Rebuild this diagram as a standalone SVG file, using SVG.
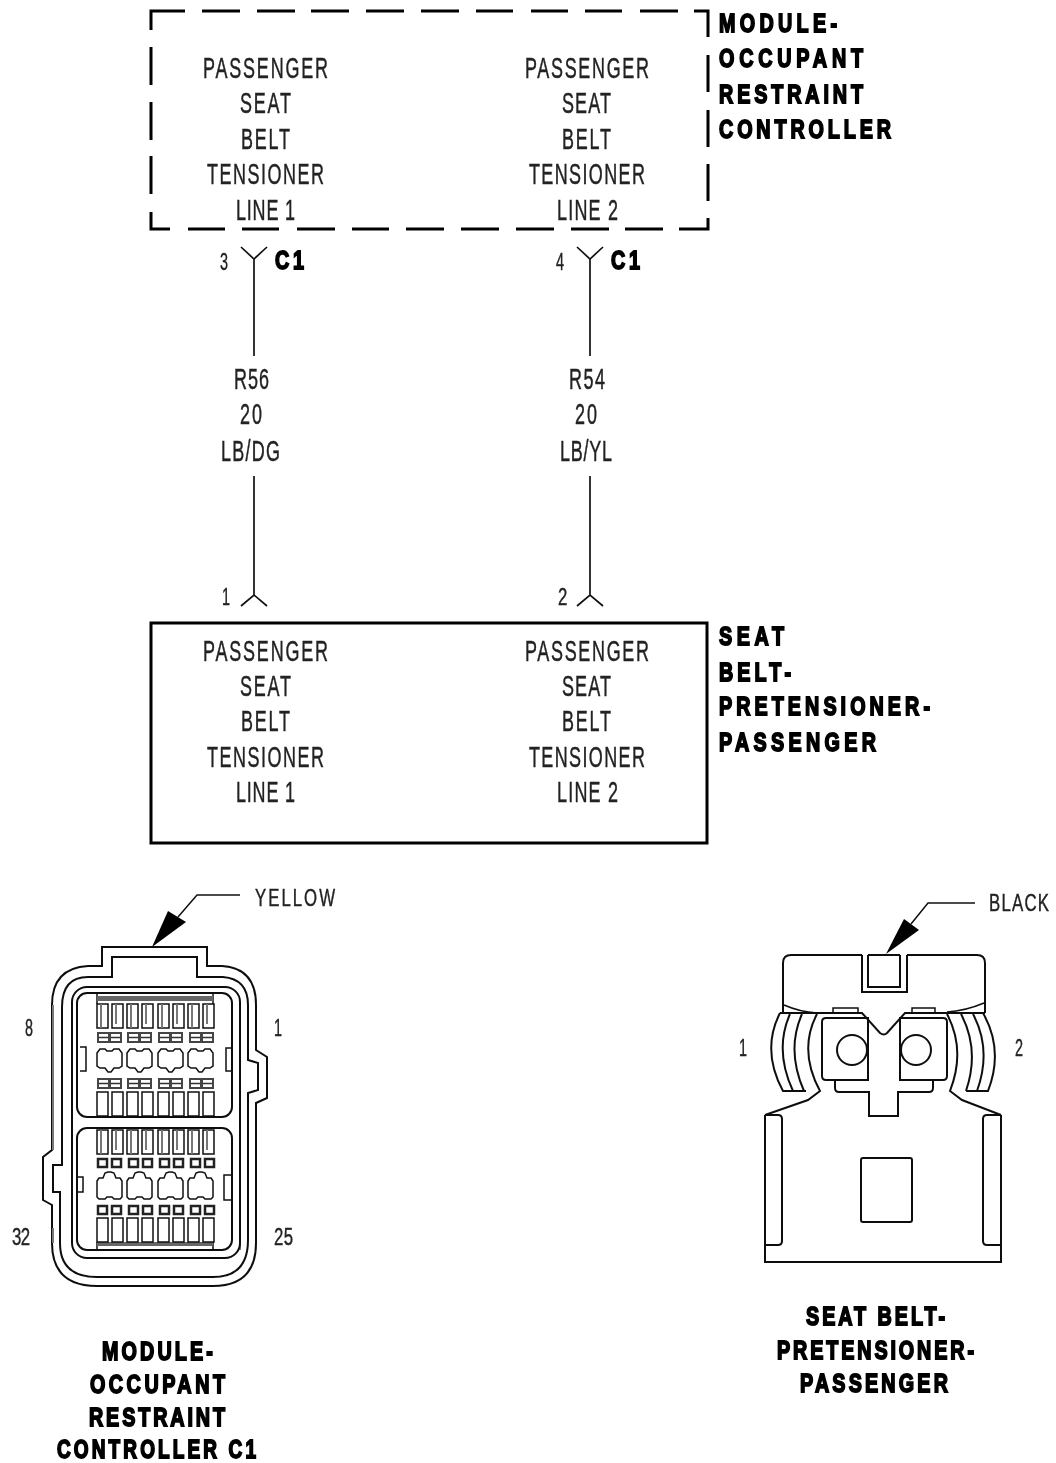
<svg xmlns="http://www.w3.org/2000/svg" width="1056" height="1463" viewBox="0 0 1056 1463">
<style>
text{font-family:"Liberation Sans",Arial,sans-serif;fill:#222}
.t{font-size:29px;stroke:#222;stroke-width:.45px}
.n{font-size:24px;stroke:#222;stroke-width:.4px}
.b{font-size:26px;font-weight:bold;fill:#000;stroke:#000;stroke-width:1.8px}
.s{fill:none;stroke:#111;stroke-width:2}
.m{fill:none;stroke:#111;stroke-width:1.5}
.w{fill:none;stroke:#111;stroke-width:1.7}
.box{fill:none;stroke:#000;stroke-width:3}
.k{fill:#000;stroke:none}
.g{fill:none;stroke:#777;stroke-width:2}
.d{fill:#666}
</style>
<defs>
<filter id="soft" x="0" y="0" width="100%" height="100%"><feGaussianBlur stdDeviation=".4"/></filter>
<g id="slots"><path class="m" d="M0,0H11V24H0ZM15,0H26V24H15ZM30,0H41V24H30ZM45,0H56V24H45ZM61,0H72V24H61ZM76,0H87V24H76ZM91,0H102V24H91ZM106,0H117V24H106Z"/></g>
<path id="shade" class="g" d="M4,0V24M19,0V20M34,0V24M49,0V20M65,0V24M80,0V20M95,0V24M110,0V20"/>
<g id="pairA"><rect width="25" height="11" fill="#444"/><rect x="2" y="2" width="9" height="7" fill="#fff"/><rect x="14" y="2" width="9" height="7" fill="#fff"/><path d="M2,5.500H11M14,5.500H23" stroke="#333" stroke-width="1.500"/></g>
<g id="pairB"><rect x="1" y="1" width="9" height="8" fill="#fff" stroke="#222" stroke-width="2.500"/><rect x="15" y="1" width="9" height="8" fill="#fff" stroke="#222" stroke-width="2.500"/></g>
<path id="termA" class="m" d="M0,5L3,1H8L10,3H15L17,1H22L25,5V18L22,20H17L14,24H11L8,20H3L0,18Z"/>
<path id="termB" class="m" d="M0,9L2,6H6L8,1L11,0H14L17,1L19,6H23L25,9V25L23,27H17L15,25H10L8,27H2L0,25Z"/>
</defs>
<g filter="url(#soft)">
<rect width="1056" height="1463" fill="#fff"/>

<g id="module-occupant-restraint-controller">
<path class="box" d="M185,11H151V30M202,11H240M257,11H295M311,11H349M366,11H404M421,11H459M476,11H513M531,11H568M585,11H622M640,11H678M694,11H708V37M708,55V92M708,110V147M708,164V201M708,218V229H679M663,229H625M609,229H571M554,229H516M499,229H461M444,229H406M389,229H352M335,229H297M279,229H242M225,229H188M170,229H151V212M151,194V156M151,140V102M151,85V47"/>
<text class="t" transform="translate(203,78) scale(.62,1)" textLength="201.600">PASSENGER</text>
<text class="t" transform="translate(240,113) scale(.62,1)" textLength="82.300">SEAT</text>
<text class="t" transform="translate(241,149) scale(.62,1)" textLength="79">BELT</text>
<text class="t" transform="translate(207,184) scale(.62,1)" textLength="188.700">TENSIONER</text>
<text class="t" transform="translate(236,220) scale(.62,1)" textLength="95.200">LINE 1</text>
<text class="t" transform="translate(525,78) scale(.62,1)" textLength="200">PASSENGER</text>
<text class="t" transform="translate(562,113) scale(.62,1)" textLength="79">SEAT</text>
<text class="t" transform="translate(562,149) scale(.62,1)" textLength="79">BELT</text>
<text class="t" transform="translate(529,184) scale(.62,1)" textLength="187">TENSIONER</text>
<text class="t" transform="translate(557,220) scale(.62,1)" textLength="98.400">LINE 2</text>
<text class="b" transform="translate(719,32) scale(.76,1)" textLength="155.300">MODULE-</text>
<text class="b" transform="translate(719,67) scale(.76,1)" textLength="189.500">OCCUPANT</text>
<text class="b" transform="translate(719,103) scale(.76,1)" textLength="189.500">RESTRAINT</text>
<text class="b" transform="translate(719,138) scale(.76,1)" textLength="226.300">CONTROLLER</text>
</g>

<g id="connectors">
<path class="w" d="M241,247L254,259L267,247M254,259V356M254,476V595M241,606L254,595L267,606"/>
<path class="w" d="M577,247L590,259L603,247M590,259V356M590,476V595M577,606L590,595L603,606"/>
</g>

<g id="wire-labels">
<text class="n" transform="translate(220,270) scale(.6,1)">3</text>
<text class="b" transform="translate(275,268.500) scale(.76,1)" textLength="38.200">C1</text>
<text class="n" transform="translate(556,270) scale(.6,1)">4</text>
<text class="b" transform="translate(611,268.500) scale(.76,1)" textLength="38.200">C1</text>
<text class="n" transform="translate(222,605) scale(.6,1)">1</text>
<text class="n" transform="translate(558,605) scale(.7,1)">2</text>
<text class="t" transform="translate(234,389) scale(.62,1)" textLength="56.500">R56</text>
<text class="t" transform="translate(240,424) scale(.62,1)" textLength="35.500">20</text>
<text class="t" transform="translate(221,461) scale(.62,1)" textLength="95.200">LB/DG</text>
<text class="t" transform="translate(569,389) scale(.62,1)" textLength="58">R54</text>
<text class="t" transform="translate(575,424) scale(.62,1)" textLength="35.500">20</text>
<text class="t" transform="translate(560,461) scale(.62,1)" textLength="83.900">LB/YL</text>
</g>

<g id="seat-belt-pretensioner-passenger">
<rect class="box" x="151" y="623" width="556" height="220"/>
<text class="t" transform="translate(203,661) scale(.62,1)" textLength="201.600">PASSENGER</text>
<text class="t" transform="translate(240,696) scale(.62,1)" textLength="82.300">SEAT</text>
<text class="t" transform="translate(241,731) scale(.62,1)" textLength="79">BELT</text>
<text class="t" transform="translate(207,767) scale(.62,1)" textLength="188.700">TENSIONER</text>
<text class="t" transform="translate(236,802) scale(.62,1)" textLength="95.200">LINE 1</text>
<text class="t" transform="translate(525,661) scale(.62,1)" textLength="200">PASSENGER</text>
<text class="t" transform="translate(562,696) scale(.62,1)" textLength="79">SEAT</text>
<text class="t" transform="translate(562,731) scale(.62,1)" textLength="79">BELT</text>
<text class="t" transform="translate(529,767) scale(.62,1)" textLength="187">TENSIONER</text>
<text class="t" transform="translate(557,802) scale(.62,1)" textLength="98.400">LINE 2</text>
<text class="b" transform="translate(719,645) scale(.76,1)" textLength="85.500">SEAT</text>
<text class="b" transform="translate(719,681) scale(.76,1)" textLength="94.700">BELT-</text>
<text class="b" transform="translate(719,715) scale(.76,1)" textLength="277.600">PRETENSIONER-</text>
<text class="b" transform="translate(719,751) scale(.76,1)" textLength="206.600">PASSENGER</text>
</g>

<g id="connector-c1-view">
<path class="m" d="M240,895H197L178,917"/>
<path class="k" d="M152,947L168,911L186,922Z"/>
<path class="s" d="M102,947V966H88Q52,968 52,1005V1150L43,1157V1200L52,1205V1243Q52,1286 97,1286H213Q256,1286 256,1243V1103L267,1098V1057L256,1050V1005Q256,968 222,966H207V947Z"/>
<path class="s" d="M112,957H197V977H223Q248,979 248,1005V1060L258,1063V1090L248,1093V1240Q248,1277 213,1277H97Q60,1277 60,1243V1192H53V1165H62V1007Q62,977 88,977H112Z"/>
<path class="g" d="M53,1005V1150M53,1228V1243M240,1010V1250"/>
<rect class="s" x="72" y="987" width="168" height="271" rx="15"/>
<rect class="s" x="77" y="993" width="155" height="124" rx="10"/>
<rect class="s" x="77" y="1128" width="155" height="122" rx="10"/>
<path class="m" d="M97,993V1004M213,993V1004M97,1242V1250M213,1242V1250"/>
<rect class="d" x="97" y="996" width="116" height="5"/>
<rect class="d" x="97" y="1242" width="116" height="4"/>
<use href="#slots" x="97" y="1004"/><use href="#shade" x="97" y="1004"/>
<use href="#slots" x="97" y="1092"/>
<use href="#slots" x="97" y="1130"/><use href="#shade" x="97" y="1130"/>
<use href="#slots" x="97" y="1218"/>
<use href="#pairA" x="97" y="1032"/><use href="#pairA" x="127" y="1032"/><use href="#pairA" x="158" y="1032"/><use href="#pairA" x="189" y="1032"/>
<use href="#pairA" x="97" y="1078"/><use href="#pairA" x="127" y="1078"/><use href="#pairA" x="158" y="1078"/><use href="#pairA" x="189" y="1078"/>
<use href="#pairB" x="97" y="1158"/><use href="#pairB" x="128" y="1158"/><use href="#pairB" x="159" y="1158"/><use href="#pairB" x="190" y="1158"/>
<use href="#pairB" x="97" y="1205"/><use href="#pairB" x="128" y="1205"/><use href="#pairB" x="159" y="1205"/><use href="#pairB" x="190" y="1205"/>
<use href="#termA" x="97" y="1048"/><use href="#termA" x="127" y="1048"/><use href="#termA" x="158" y="1048"/><use href="#termA" x="188" y="1048"/>
<use href="#termB" x="97" y="1172"/><use href="#termB" x="127" y="1172"/><use href="#termB" x="158" y="1172"/><use href="#termB" x="188" y="1172"/>
<path class="m" d="M80,1047H86V1071H80M231,1048H226V1071H231M78,1177H83V1192H78M231,1175H224V1200H231"/>
<text class="n" transform="translate(255,906) scale(.7,1)" textLength="114.300">YELLOW</text>
<text class="n" transform="translate(25,1036) scale(.6,1)">8</text>
<text class="n" transform="translate(274,1036) scale(.6,1)">1</text>
<text class="n" transform="translate(12,1245) scale(.7,1)" textLength="25.700">32</text>
<text class="n" transform="translate(274,1245) scale(.7,1)" textLength="27.100">25</text>
<text class="b" transform="translate(102,1360) scale(.76,1)" textLength="146">MODULE-</text>
<text class="b" transform="translate(90,1393) scale(.76,1)" textLength="177.600">OCCUPANT</text>
<text class="b" transform="translate(89,1426) scale(.76,1)" textLength="178.900">RESTRAINT</text>
<text class="b" transform="translate(57,1458) scale(.76,1)" textLength="261.800" style="font-size:25px">CONTROLLER C1</text>
</g>

<g id="pretensioner-connector-view">
<path class="m" d="M975,903H928L911,924"/>
<path class="k" d="M886,954L904,919L919,930Z"/>
<path class="s" d="M862,955H791Q783,955 783,963V1013M907,955H977Q985,955 985,963V1013"/>
<path class="s" d="M868,955V987H900V955M868,955H900M862,955V992H907V955"/>
<path class="m" d="M784,1005Q800,1012 817,1013M984,1003Q965,1011 947,1012"/>
<path class="s" d="M780,1013H862L880,1033Q884,1036 887,1033L905,1013H985"/>
<path class="m" d="M833,1012V1008H858V1012M912,1012V1008H935V1012"/>
<path class="s" d="M826,1018H868V1080H826Q822,1080 822,1076V1022Q822,1018 826,1018ZM900,1018H943Q947,1018 947,1022V1076Q947,1080 943,1080H900Z"/>
<circle class="s" cx="852" cy="1050" r="15"/>
<circle class="s" cx="916" cy="1050" r="15"/>
<path class="s" d="M835,1080V1088Q835,1092 839,1092H869V1116H898V1092H929Q933,1092 933,1088V1080"/>
<path class="s" d="M780,1013Q761,1050 783,1091H806M790,1014Q774,1050 793,1091M802,1014Q786,1050 804,1091M817,1014Q798,1050 820,1091L808,1100L765,1115"/>
<path class="s" d="M983,1013Q1004,1050 988,1091H966M973,1014Q992,1050 977,1091M961,1014Q980,1050 966,1091M947,1014Q966,1050 950,1091L962,1100L1001,1115"/>
<path class="s" d="M765,1115V1262H1001V1115"/>
<path class="s" d="M765,1115H778Q782,1115 782,1119V1241Q782,1245 778,1245H765M1001,1115H987Q983,1115 983,1119V1241Q983,1245 987,1245H1001"/>
<rect class="s" x="861" y="1158" width="51" height="64" rx="2"/>
<text class="n" transform="translate(989,911) scale(.7,1)" textLength="85.700">BLACK</text>
<text class="n" transform="translate(739,1056) scale(.6,1)">1</text>
<text class="n" transform="translate(1015,1056) scale(.6,1)">2</text>
<text class="b" transform="translate(806,1325) scale(.76,1)" textLength="182.900">SEAT BELT-</text>
<text class="b" transform="translate(777,1359) scale(.76,1)" textLength="259.200">PRETENSIONER-</text>
<text class="b" transform="translate(800,1392) scale(.76,1)" textLength="194.700">PASSENGER</text>
</g>
</g>
</svg>
